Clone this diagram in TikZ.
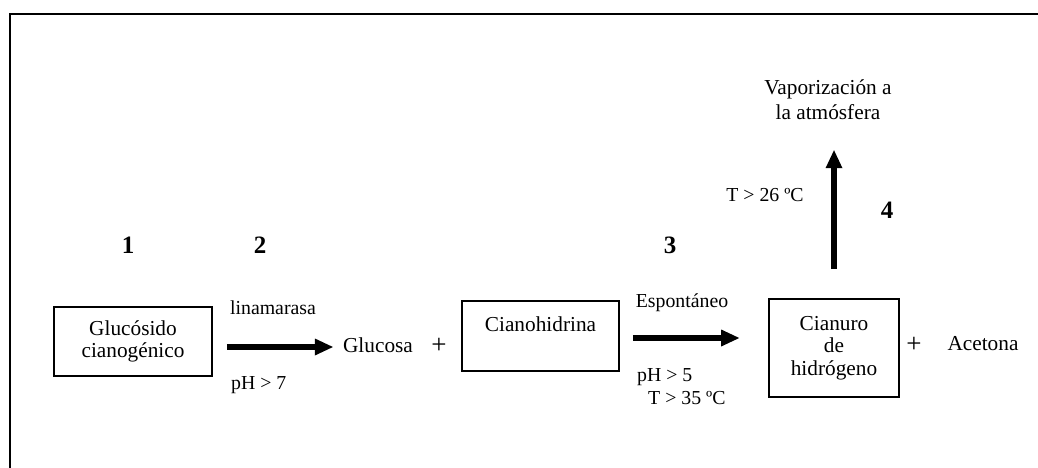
\documentclass[tikz,border=0pt]{standalone}
\usepackage{fontspec}
\setmainfont{Liberation Serif}
\usetikzlibrary{positioning}
\usetikzlibrary{arrows.meta}
\usetikzlibrary{calc}
\tikzset{boxStyle/.style={rectangle, draw=black, line width=1.6pt, inner sep=0pt}}
\tikzset{txtStyle/.style={inner sep=0pt, align=center, font=\fontsize{21.3}{22.5}\selectfont}}
\tikzset{plusStyle/.style={inner sep=0pt, font=\fontsize{27}{27}\selectfont}}
\tikzset{smallStyle/.style={inner sep=0pt, font=\fontsize{19.8}{21}\selectfont}}
\tikzset{numStyle/.style={inner sep=0pt, font=\fontsize{25}{25}\selectfont\bfseries}}
\tikzset{arrStyle/.style={-{Triangle[length=18pt,width=17pt,line width=0pt]}, line width=6.5pt}}

\begin{document}
\begin{tikzpicture}[x=1pt, y=-1pt]
  \useasboundingbox (0,0) rectangle (1038,468);
  % frame
  \draw [line width=2.5pt] (10,470) -- (10,14) -- (1040,14);

  % nodes
  \node at (133, 341.5) [boxStyle, txtStyle, minimum width=158pt, minimum height=69pt] (glucosido) {Glucósido\\cianogénico};
  \node at (378, 345) [txtStyle] (glucosa) {Glucosa};
  \node at (439, 346) [plusStyle] (plusA) {+};
  \node at (540.5, 336) [boxStyle, minimum width=157pt, minimum height=70pt] (cianoBox) {};
  \node at (540.5, 324) [txtStyle] (ciano) {Cianohidrina};
  \node at (834, 348) [boxStyle, txtStyle, minimum width=130pt, minimum height=98pt] (cianuro) {Cianuro\\de\\hidrógeno};
  \node at (914, 345) [plusStyle] (plusB) {+};
  \node at (983, 344) [txtStyle] (acetona) {Acetona};
  \node at (828, 100) [txtStyle, font=\fontsize{21.3}{25}\selectfont] (vapor) {Vaporización a\\la atmósfera};

  % labels
  \node at (273, 308) [smallStyle] (linamarasa) {linamarasa};
  \node at (231, 385) [smallStyle, anchor=west] (phA) {pH > 7};
  \node at (682, 303) [smallStyle] (espontaneo) {Espontáneo};
  \node at (637, 377) [smallStyle, anchor=west] (phB) {pH > 5};
  \node at (648, 398) [smallStyle, anchor=west] (tempB) {T > 35 ºC};
  \node at (765, 195) [smallStyle] (tempC) {T > 26 ºC};

  % step numbers
  \node at (128, 245) [numStyle] (one) {1};
  \node at (260, 245) [numStyle] (two) {2};
  \node at (670, 245) [numStyle] (three) {3};
  \node at (887, 210) [numStyle] (four) {4};

  % arrows
  \draw [arrStyle] ($(glucosido.east)+(14,5.5)$) -- ($(glucosido.east -| glucosa.west)+(-10,5.5)$);
  \draw [arrStyle] ($(cianoBox.east)+(13,2)$) -- ($(cianoBox.east -| cianuro.west)+(-29,2)$);
  \draw [arrStyle, shorten <=29pt, shorten >=30pt] (cianuro.north) -- (cianuro.north |- vapor.south);
\end{tikzpicture}
\end{document}
